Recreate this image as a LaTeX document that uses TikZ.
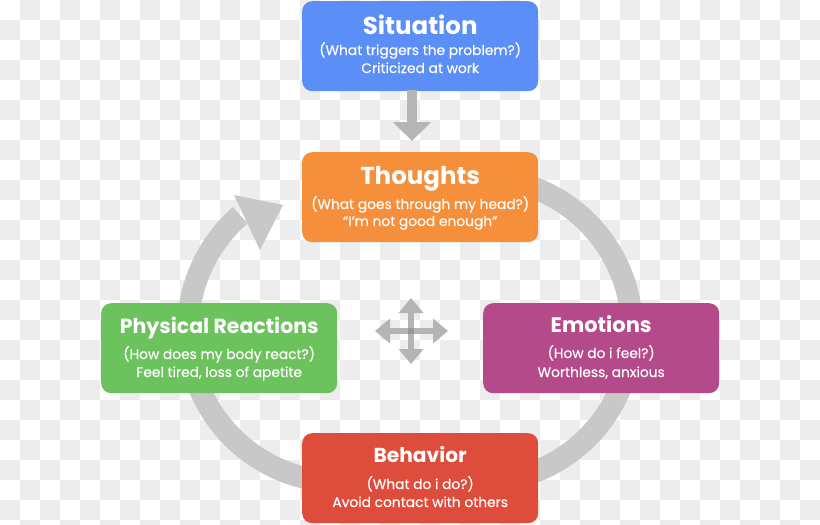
\documentclass[tikz,border=0pt]{standalone}
\usepackage{fontspec}
\setmainfont{Poppins}
\newfontfamily\subfont[FakeBold=0.35]{Poppins}
\usetikzlibrary{arrows.meta,calc}
\definecolor{sitblue}{HTML}{5B8EF6}
\definecolor{thoorange}{HTML}{F58F3B}
\definecolor{phygreen}{HTML}{6CC35E}
\definecolor{emomag}{HTML}{B54A8B}
\definecolor{behred}{HTML}{DE4C3C}
\definecolor{checkgray}{HTML}{EDEDED}
\definecolor{ringgray}{HTML}{C8C8C8}
\definecolor{arrgray}{HTML}{B6B6B6}
\definecolor{crossgray}{HTML}{B4B4B4}
\definecolor{crossdark}{HTML}{999999}
\begin{document}
\begin{tikzpicture}[x=1pt,y=-1pt,
  box/.style={rounded corners=10pt, minimum width=236pt, minimum height=90pt, inner sep=0pt, anchor=north west, draw=none},
  ttl/.style={text=white, font=\bfseries\fontsize{#1}{#1}\selectfont, anchor=base, inner sep=0pt},
  ttl/.default=21,
  sub/.style={text=white, font=\subfont\fontsize{13.8}{13.8}\selectfont, anchor=base, inner sep=0pt},
  ring/.style={draw=ringgray, line width=22pt},
  crossarrow/.style={draw=crossgray, line width=6pt, {Triangle[width=24pt,length=15pt]}-{Triangle[width=24pt,length=15pt]}},
  downarrow/.style={draw=arrgray, line width=10pt, -{Triangle[width=37pt,length=19pt]}}
]
\useasboundingbox (0,0) rectangle (820,525);
% checkerboard background
\fill[white] (0,0) rectangle (820,525);
\begin{scope}
\clip (0,0) rectangle (820,525);
\foreach \i in {0,2,...,40} {\foreach \j in {1,3,...,25} {\fill[checkgray] (20*\i,20*\j) rectangle (20*\i+20,20*\j+20);}}
\foreach \i in {1,3,...,41} {\foreach \j in {0,2,...,26} {\fill[checkgray] (20*\i,20*\j) rectangle (20*\i+20,20*\j+20);}}
\end{scope}
% cycle ring (stadium shape)
\coordinate (lc) at (340,330);
\coordinate (rc) at (480,330);
\draw[ring] ($(lc)+(-131:152)$) arc[start angle=-131, end angle=-270, radius=152] -- ($(rc)+(0,152)$) arc[start angle=-270, end angle=-450, radius=152] -- ($(lc)+(0,-152)$);
\coordinate (ahA) at (234,195);
\coordinate (ahB) at (283,205);
\coordinate (ahC) at (260,250);
\fill[ringgray] (ahA) -- (ahB) -- (ahC) -- cycle;
% boxes
\node[box, fill=sitblue] (sit) at (302,1) {};
\node[box, fill=thoorange] (tho) at (302,152) {};
\node[box, fill=phygreen] (phy) at (101,303) {};
\node[box, fill=emomag] (emo) at (483,303) {};
\node[box, fill=behred] (beh) at (302,433) {};
% texts
\node[ttl=24.5] (sitT) at ($(sit.north)+(0,33)$) {Situation};
\node[sub] (sitS) at ($(sit.north)+(0,54)$) {(What triggers the problem?)};
\node[sub] (sitX) at ($(sit.north)+(0,72)$) {Criticized at work};
\node[ttl=24.5] (thoT) at ($(tho.north)+(0,32)$) {Thoughts};
\node[sub] (thoS) at ($(tho.north)+(0,57)$) {(What goes through my head?)};
\node[sub] (thoX) at ($(tho.north)+(0,74)$) {“I’m not good enough”};
\node[ttl=20.5] (phyT) at ($(phy.north)+(0,30)$) {Physical Reactions};
\node[sub] (phyS) at ($(phy.north)+(0,56)$) {(How does my body react?)};
\node[sub] (phyX) at ($(phy.north)+(0,74)$) {Feel tired, loss of apetite};
\node[ttl=21] (emoT) at ($(emo.north)+(0,29)$) {Emotions};
\node[sub] (emoS) at ($(emo.north)+(0,55)$) {(How do i feel?)};
\node[sub] (emoX) at ($(emo.north)+(0,74)$) {Worthless, anxious};
\node[ttl=20.2] (behT) at ($(beh.north)+(0,29)$) {Behavior};
\node[sub] (behS) at ($(beh.north)+(0,56)$) {(What do i do?)};
\node[sub] (behX) at ($(beh.north)+(0,74)$) {Avoid contact with others};
% arrow situation -> thoughts
\coordinate (dA) at (412,90);
\coordinate (dB) at (412,141);
\draw[downarrow] (dA) -- (dB);
% centre cross
\coordinate (cxL) at (375,331);
\coordinate (cxR) at (448,331);
\coordinate (cxT) at (411,298);
\coordinate (cxB) at (411,364);
\coordinate (cxC) at (411,331);
\draw[crossarrow] (cxL) -- (cxR);
\draw[crossarrow] (cxT) -- (cxB);
\fill[crossdark] ($(cxC)+(-3,-3)$) rectangle ($(cxC)+(3,3)$);
\end{tikzpicture}
\end{document}
